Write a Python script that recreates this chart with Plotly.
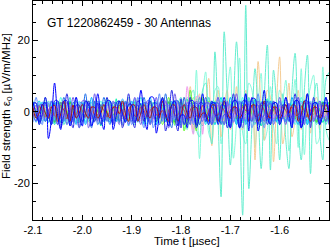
import plotly.graph_objects as go

# sample times [usec], 6.25 ns spacing
TIME = [
    -2.1, -2.09375, -2.0875, -2.08125, -2.075, -2.06875, -2.0625, -2.05625,
    -2.05, -2.04375, -2.0375, -2.03125, -2.025, -2.01875, -2.0125, -2.00625,
    -2.0, -1.99375, -1.9875, -1.98125, -1.975, -1.96875, -1.9625, -1.95625,
    -1.95, -1.94375, -1.9375, -1.93125, -1.925, -1.91875, -1.9125, -1.90625,
    -1.9, -1.89375, -1.8875, -1.88125, -1.875, -1.86875, -1.8625, -1.85625,
    -1.85, -1.84375, -1.8375, -1.83125, -1.825, -1.81875, -1.8125, -1.80625,
    -1.8, -1.79375, -1.7875, -1.78125, -1.775, -1.76875, -1.7625, -1.75625,
    -1.75, -1.74375, -1.7375, -1.73125, -1.725, -1.71875, -1.7125, -1.70625,
    -1.7, -1.69375, -1.6875, -1.68125, -1.675, -1.66875, -1.6625, -1.65625,
    -1.65, -1.64375, -1.6375, -1.63125, -1.625, -1.61875, -1.6125, -1.60625,
    -1.6, -1.59375, -1.5875, -1.58125, -1.575, -1.56875, -1.5625, -1.55625,
    -1.55, -1.54375, -1.5375, -1.53125, -1.525, -1.51875, -1.5125, -1.50625,
    -1.5,
]

# field strength per antenna [uV/m/MHz]
SIG_A = [
    1.2, -1.8, -0.4, 2, -0.4, -1.8, 1.2,
    0.9, -1.4, -0.3, 1.5, -0.3, -1.4, 0.9,
    -1.8, -0.4, 2, -0.4, -1.8, 1.2, 1.2,
    -1.4, -0.3, 1.5, -0.3, -1.4, 0.9, 0.9,
    -0.4, 2, -0.4, -1.8, 1.2, 1.2, -1.8,
    -0.4, 2, -0.4, -1.8, 1.2, 1.2, -1.8,
    1, -2, 2.5, 1, -3, 2, 4,
    -2, -5, 4, 6, -5, -7, 6,
    8, -3, -9, 16.7, -2, -23.8, 22.3,
    4, -14.9, 2, 19.5, 0, -28.9, 29.7,
    -21.5, -4, 12, 0, -15.9, 4, 18.6,
    -16.3, 11.6, 2, -13.5, 5, -8, -15.9,
    6, 16.3, -4, -13.5, 6, 15.8, -17.3,
    3, 8, -6, -13.5, 9, 11,
]
SIG_B = [
    0.3, 1.4, -0.9, -0.9, 1.4, 0.3, -1.5,
    0.4, 1.8, -1.2, -1.2, 1.8, 0.4, -2,
    1.4, -0.9, -0.9, 1.4, 0.3, -1.5, 0.3,
    1.8, -1.2, -1.2, 1.8, 0.4, -2, 0.4,
    -0.9, -0.9, 1.4, 0.3, -1.5, 0.3, 1.4,
    -1.2, -1.2, 1.8, 0.4, -2, 0.4, 1.8,
    1, -2, 3, 1, -4, 3, 2,
    -5, 4, 3, -6, 11.6, -13.1, 4,
    11.1, -6, -8, 6, 7, -9, -2,
    5, 12.5, -13, -3, 15, -6, -9,
    8, 6, -10, 2, 10.7, -8, -5,
    7, -4, -9, 6, 4, 8.8, -11,
    -2, 9, -10, 12, -12, 2, 7,
    10.2, -9, -7, 12.5, -5, -8,
]
SIG_OR = [
    -1.4, 0.9, 0.9, -1.4, -0.3, 1.5, -0.3,
    -1.4, 0.9, 0.9, -1.4, -0.3, 1.5, -0.3,
    1.2, 1.2, -1.8, -0.4, 2, -0.4, -1.8,
    0.9, 0.9, -1.4, -0.3, 1.5, -0.3, -1.4,
    0.9, -1.4, -0.3, 1.5, -0.3, -1.4, 0.9,
    1.2, -1.8, -0.4, 2, -0.4, -1.8, 1.2,
    -1, 2, -2, -1, 3, -2, -3,
    4, 2, 7, -5, -2, 5, -4,
    2, 9.3, -9.5, 2, 6, -7, 1,
    6, -5, -3, 7, -4, -5, 6,
    3, 2, -13.5, 14, 1, -8, 6,
    4, -14, 3, 15.3, -9, -3, 8,
    -7, -2, 6, -5, 3, 5, -6,
    2, 4, -5, 1, 4, -3,
]
ANT01 = [
    2.5, -0.5, -3, 2, 2.5, -7.5, -2,
    8, -1, -5, 3, 3, -4, -1,
    4, -1, -4, 3, 2, -4, -1,
    5, -1, -5, 3, 3, -5, -1,
    3, -0.5, -3, 2, 2, -3, -0.5,
    6, -1, -5, 4, 4, -6, -1,
    4, -1, -4, 2, 3, -4, -1,
    -1, -4.5, 3, 3, -4.5, -1, 5,
    -0.8, -3.6, 2.4, 2.4, -3.6, -0.8, 4,
    -1, -4.5, 3, 3, -4.5, -1, 5,
    -5.4, 3.6, 3.6, -5.4, -1.2, 6, -1.2,
    -3.6, 2.4, 2.4, -3.6, -0.8, 4, -0.8,
    -4.5, 3, 3, -4.5, -1, 5, -1,
    2.4, 2.4, -3.6, -0.8, 4, -0.8,
]
ANT02 = [
    2.4, 2.4, -3.6, -0.8, 4, -0.8, -3.6,
    3, 3, -4.5, -1, 5, -1, -4.5,
    1.8, 1.8, -2.7, -0.6, 3, -0.6, -2.7,
    2.4, -3.6, -0.8, 4, -0.8, -3.6, 2.4,
    3, -4.5, -1, 5, -1, -4.5, 3,
    1.8, -2.7, -0.6, 3, -0.6, -2.7, 1.8,
    3.6, -5.4, -1.2, 6, -1.2, -5.4, 3.6,
    -3.6, -0.8, 4, -0.8, -3.6, 2.4, 2.4,
    -2.7, -0.6, 3, -0.6, -2.7, 1.8, 1.8,
    -4.5, -1, 5, -1, -4.5, 3, 3,
    -0.8, 4, -0.8, -3.6, 2.4, 2.4, -3.6,
    -0.6, 3, -0.6, -2.7, 1.8, 1.8, -2.7,
    -1, 5, -1, -4.5, 3, 3, -4.5,
    4, -0.8, -3.6, 2.4, 2.4, -3.6,
]
ANT03 = [
    -0.6, -2.7, 1.8, 1.8, -2.7, -0.6, 3,
    -0.8, -3.6, 2.4, 2.4, -3.6, -0.8, 4,
    -1, -4.5, 3, 3, -4.5, -1, 5,
    -2.7, 1.8, 1.8, -2.7, -0.6, 3, -0.6,
    -3.6, 2.4, 2.4, -3.6, -0.8, 4, -0.8,
    -3.6, 2.4, 2.4, -3.6, -0.8, 4, -0.8,
    3, 3, -4.5, -1, 5, -1, -4.5,
    1.8, 1.8, -2.7, -0.6, 3, -0.6, -2.7,
    2.4, 2.4, -3.6, -0.8, 4, -0.8, -3.6,
    3, -4.5, -1, 5, -1, -4.5, 3,
    1.8, -2.7, -0.6, 3, -0.6, -2.7, 1.8,
    2.4, -3.6, -0.8, 4, -0.8, -3.6, 2.4,
    -3.6, -0.8, 4, -0.8, -3.6, 2.4, 2.4,
    -2.7, -0.6, 3, -0.6, -2.7, 1.8,
]
ANT04 = [
    1.2, -1.8, -0.4, 2, -0.4, -1.8, 1.2,
    1.8, -2.7, -0.6, 3, -0.6, -2.7, 1.8,
    -1.8, -0.4, 2, -0.4, -1.8, 1.2, 1.2,
    -1.8, -0.4, 2, -0.4, -1.8, 1.2, 1.2,
    -0.6, 3, -0.6, -2.7, 1.8, 1.8, -2.7,
    -0.4, 2, -0.4, -1.8, 1.2, 1.2, -1.8,
    3, -0.6, -2.7, 1.8, 1.8, -2.7, -0.6,
    2, -0.4, -1.8, 1.2, 1.2, -1.8, -0.4,
    -0.6, -2.7, 1.8, 1.8, -2.7, -0.6, 3,
    -0.4, -1.8, 1.2, 1.2, -1.8, -0.4, 2,
    -2.7, 1.8, 1.8, -2.7, -0.6, 3, -0.6,
    -1.8, 1.2, 1.2, -1.8, -0.4, 2, -0.4,
    1.8, 1.8, -2.7, -0.6, 3, -0.6, -2.7,
    1.2, 1.2, -1.8, -0.4, 2, -0.4,
]
ANT05 = [
    -1.8, 1.2, 1.2, -1.8, -0.4, 2, -0.4,
    -1.8, 1.2, 1.2, -1.8, -0.4, 2, -0.4,
    1.8, 1.8, -2.7, -0.6, 3, -0.6, -2.7,
    1.2, 1.2, -1.8, -0.4, 2, -0.4, -1.8,
    1.2, -1.8, -0.4, 2, -0.4, -1.8, 1.2,
    1.8, -2.7, -0.6, 3, -0.6, -2.7, 1.8,
    -3.6, -0.8, 4, -0.8, -3.6, 2.4, 2.4,
    -5.4, -1.2, 6, -1.2, -5.4, 3.6, 3.6,
    -0.6, 3, -0.6, -2.7, 1.8, 1.8, -2.7,
    -0.4, 2, -0.4, -1.8, 1.2, 1.2, -1.8,
    3, -0.6, -2.7, 1.8, 1.8, -2.7, -0.6,
    2, -0.4, -1.8, 1.2, 1.2, -1.8, -0.4,
    -0.4, -1.8, 1.2, 1.2, -1.8, -0.4, 2,
    -0.6, -2.7, 1.8, 1.8, -2.7, -0.6,
]
ANT06 = [
    -2, 0.4, 1.8, -1.2, -1.2, 1.8, 0.4,
    -3, 0.6, 2.7, -1.8, -1.8, 2.7, 0.6,
    0.4, 1.8, -1.2, -1.2, 1.8, 0.4, -2,
    0.4, 1.8, -1.2, -1.2, 1.8, 0.4, -2,
    2.7, -1.8, -1.8, 2.7, 0.6, -3, 0.6,
    1.8, -1.2, -1.2, 1.8, 0.4, -2, 0.4,
    -1.8, -1.8, 2.7, 0.6, -3, 0.6, 2.7,
    -2.4, -2.4, 3.6, 0.8, -4, 0.8, 3.6,
    -1.8, 2.7, 0.6, -3, 0.6, 2.7, -1.8,
    -1.2, 1.8, 0.4, -2, 0.4, 1.8, -1.2,
    2.7, 0.6, -3, 0.6, 2.7, -1.8, -1.8,
    1.8, 0.4, -2, 0.4, 1.8, -1.2, -1.2,
    0.4, -2, 0.4, 1.8, -1.2, -1.2, 1.8,
    0.6, -3, 0.6, 2.7, -1.8, -1.8,
]
ANT07 = [
    -2.7, -0.6, 3, -0.6, -2.7, 1.8, 1.8,
    -0.6, 3, -0.6, -2.7, 1.8, 1.8, -2.7,
    -0.4, 2, -0.4, -1.8, 1.2, 1.2, -1.8,
    3, -0.6, -2.7, 1.8, 1.8, -2.7, -0.6,
    3, -0.6, -2.7, 1.8, 1.8, -2.7, -0.6,
    -0.4, -1.8, 1.2, 1.2, -1.8, -0.4, 2,
    -0.6, -2.7, 1.8, 1.8, -2.7, -0.6, 3,
    -2.7, 1.8, 1.8, -2.7, -0.6, 3, -0.6,
    -3.6, 2.4, 2.4, -3.6, -0.8, 4, -0.8,
    1.8, 1.8, -2.7, -0.6, 3, -0.6, -2.7,
    1.2, 1.2, -1.8, -0.4, 2, -0.4, -1.8,
    1.8, -2.7, -0.6, 3, -0.6, -2.7, 1.8,
    1.8, -2.7, -0.6, 3, -0.6, -2.7, 1.8,
    -1.8, -0.4, 2, -0.4, -1.8, 1.2,
]
ANT08 = [
    2.7, -1.8, -1.8, 2.7, 0.6, -3, 0.6,
    2.7, -1.8, -1.8, 2.7, 0.6, -3, 0.6,
    -1.2, -1.2, 1.8, 0.4, -2, 0.4, 1.8,
    -1.8, -1.8, 2.7, 0.6, -3, 0.6, 2.7,
    -2.4, 3.6, 0.8, -4, 0.8, 3.6, -2.4,
    -1.8, 2.7, 0.6, -3, 0.6, 2.7, -1.8,
    2.7, 0.6, -3, 0.6, 2.7, -1.8, -1.8,
    1.8, 0.4, -2, 0.4, 1.8, -1.2, -1.2,
    0.6, -3, 0.6, 2.7, -1.8, -1.8, 2.7,
    0.8, -4, 0.8, 3.6, -2.4, -2.4, 3.6,
    -3, 0.6, 2.7, -1.8, -1.8, 2.7, 0.6,
    -2, 0.4, 1.8, -1.2, -1.2, 1.8, 0.4,
    0.6, 2.7, -1.8, -1.8, 2.7, 0.6, -3,
    0.6, 2.7, -1.8, -1.8, 2.7, 0.6,
]
ANT09 = [
    -0.8, 4, -0.8, -3.6, 2.4, 2.4, -3.6,
    -0.6, 3, -0.6, -2.7, 1.8, 1.8, -2.7,
    4, -0.8, -3.6, 2.4, 2.4, -3.6, -0.8,
    3, -0.6, -2.7, 1.8, 1.8, -2.7, -0.6,
    -0.8, -3.6, 2.4, 2.4, -3.6, -0.8, 4,
    -1, -4.5, 3, 3, -4.5, -1, 5,
    -2.7, 1.8, 1.8, -2.7, -0.6, 3, -0.6,
    -3.6, 2.4, 2.4, -3.6, -0.8, 4, -0.8,
    2.4, 2.4, -3.6, -0.8, 4, -0.8, -3.6,
    1.8, 1.8, -2.7, -0.6, 3, -0.6, -2.7,
    3, -4.5, -1, 5, -1, -4.5, 3,
    1.8, -2.7, -0.6, 3, -0.6, -2.7, 1.8,
    -3.6, -0.8, 4, -0.8, -3.6, 2.4, 2.4,
    -2.7, -0.6, 3, -0.6, -2.7, 1.8,
]
ANT10 = [
    -1.2, 1.8, 0.4, -2, 0.4, 1.8, -1.2,
    -1.2, 1.8, 0.4, -2, 0.4, 1.8, -1.2,
    2.7, 0.6, -3, 0.6, 2.7, -1.8, -1.8,
    1.8, 0.4, -2, 0.4, 1.8, -1.2, -1.2,
    0.8, -4, 0.8, 3.6, -2.4, -2.4, 3.6,
    0.4, -2, 0.4, 1.8, -1.2, -1.2, 1.8,
    -2, 0.4, 1.8, -1.2, -1.2, 1.8, 0.4,
    -3, 0.6, 2.7, -1.8, -1.8, 2.7, 0.6,
    0.4, 1.8, -1.2, -1.2, 1.8, 0.4, -2,
    0.4, 1.8, -1.2, -1.2, 1.8, 0.4, -2,
    2.7, -1.8, -1.8, 2.7, 0.6, -3, 0.6,
    1.8, -1.2, -1.2, 1.8, 0.4, -2, 0.4,
    -1.2, -1.2, 1.8, 0.4, -2, 0.4, 1.8,
    -1.2, -1.2, 1.8, 0.4, -2, 0.4,
]
ANT11 = [
    1.2, 1.2, -1.8, -0.4, 2, -0.4, -1.8,
    1.2, 1.2, -1.8, -0.4, 2, -0.4, -1.8,
    1.2, -1.8, -0.4, 2, -0.4, -1.8, 1.2,
    1.2, -1.8, -0.4, 2, -0.4, -1.8, 1.2,
    -1.8, -0.4, 2, -0.4, -1.8, 1.2, 1.2,
    -2.7, -0.6, 3, -0.6, -2.7, 1.8, 1.8,
    -0.6, 3, -0.6, -2.7, 1.8, 1.8, -2.7,
    -1.4, 7, -1.4, -6.3, 4.2, 4.2, -6.3,
    3, -0.6, -2.7, 1.8, 1.8, -2.7, -0.6,
    2, -0.4, -1.8, 1.2, 1.2, -1.8, -0.4,
    -0.4, -1.8, 1.2, 1.2, -1.8, -0.4, 2,
    -0.4, -1.8, 1.2, 1.2, -1.8, -0.4, 2,
    -1.8, 1.2, 1.2, -1.8, -0.4, 2, -0.4,
    -1.8, 1.2, 1.2, -1.8, -0.4, 2,
]
ANT12 = [
    0.4, 1.8, -1.2, -1.2, 1.8, 0.4, -2,
    0.6, 2.7, -1.8, -1.8, 2.7, 0.6, -3,
    1.8, -1.2, -1.2, 1.8, 0.4, -2, 0.4,
    2.7, -1.8, -1.8, 2.7, 0.6, -3, 0.6,
    -1.2, -1.2, 1.8, 0.4, -2, 0.4, 1.8,
    -1.2, -1.2, 1.8, 0.4, -2, 0.4, 1.8,
    -1.8, 2.7, 0.6, -3, 0.6, 2.7, -1.8,
    -1.8, 2.7, 0.6, -3, 0.6, 2.7, -1.8,
    1.8, 0.4, -2, 0.4, 1.8, -1.2, -1.2,
    2.7, 0.6, -3, 0.6, 2.7, -1.8, -1.8,
    0.4, -2, 0.4, 1.8, -1.2, -1.2, 1.8,
    0.4, -2, 0.4, 1.8, -1.2, -1.2, 1.8,
    -3, 0.6, 2.7, -1.8, -1.8, 2.7, 0.6,
    -2, 0.4, 1.8, -1.2, -1.2, 1.8,
]
ANT13 = [
    2, -0.4, -1.8, 1.2, 1.2, -1.8, -0.4,
    -0.4, -1.8, 1.2, 1.2, -1.8, -0.4, 2,
    -0.6, -2.7, 1.8, 1.8, -2.7, -0.6, 3,
    -1.8, 1.2, 1.2, -1.8, -0.4, 2, -0.4,
    -2.7, 1.8, 1.8, -2.7, -0.6, 3, -0.6,
    1.2, 1.2, -1.8, -0.4, 2, -0.4, -1.8,
    1.8, 1.8, -2.7, -0.6, 3, -0.6, -2.7,
    2.4, -3.6, -0.8, 4, -0.8, -3.6, 2.4,
    1.8, -2.7, -0.6, 3, -0.6, -2.7, 1.8,
    -1.8, -0.4, 2, -0.4, -1.8, 1.2, 1.2,
    -2.7, -0.6, 3, -0.6, -2.7, 1.8, 1.8,
    -0.4, 2, -0.4, -1.8, 1.2, 1.2, -1.8,
    -0.6, 3, -0.6, -2.7, 1.8, 1.8, -2.7,
    2, -0.4, -1.8, 1.2, 1.2, -1.8,
]
ANT14 = [
    2.7, 0.6, -3, 0.6, 2.7, -1.8, -1.8,
    2.7, 0.6, -3, 0.6, 2.7, -1.8, -1.8,
    0.6, -3, 0.6, 2.7, -1.8, -1.8, 2.7,
    0.8, -4, 0.8, 3.6, -2.4, -2.4, 3.6,
    -3, 0.6, 2.7, -1.8, -1.8, 2.7, 0.6,
    -2, 0.4, 1.8, -1.2, -1.2, 1.8, 0.4,
    0.6, 2.7, -1.8, -1.8, 2.7, 0.6, -3,
    0.8, 3.6, -2.4, -2.4, 3.6, 0.8, -4,
    2.7, -1.8, -1.8, 2.7, 0.6, -3, 0.6,
    2.7, -1.8, -1.8, 2.7, 0.6, -3, 0.6,
    -2.4, -2.4, 3.6, 0.8, -4, 0.8, 3.6,
    -1.2, -1.2, 1.8, 0.4, -2, 0.4, 1.8,
    -1.8, 2.7, 0.6, -3, 0.6, 2.7, -1.8,
    -1.8, 2.7, 0.6, -3, 0.6, 2.7,
]
ANT15 = [
    -2.7, 1.8, 1.8, -2.7, -0.6, 3, -0.6,
    -3.6, 2.4, 2.4, -3.6, -0.8, 4, -0.8,
    1.8, 1.8, -2.7, -0.6, 3, -0.6, -2.7,
    1.8, 1.8, -2.7, -0.6, 3, -0.6, -2.7,
    2.4, -3.6, -0.8, 4, -0.8, -3.6, 2.4,
    1.8, -2.7, -0.6, 3, -0.6, -2.7, 1.8,
    -2.7, -0.6, 3, -0.6, -2.7, 1.8, 1.8,
    -3.6, -0.8, 4, -0.8, -3.6, 2.4, 2.4,
    -0.8, 4, -0.8, -3.6, 2.4, 2.4, -3.6,
    -0.6, 3, -0.6, -2.7, 1.8, 1.8, -2.7,
    4, -0.8, -3.6, 2.4, 2.4, -3.6, -0.8,
    3, -0.6, -2.7, 1.8, 1.8, -2.7, -0.6,
    -0.6, -2.7, 1.8, 1.8, -2.7, -0.6, 3,
    -0.8, -3.6, 2.4, 2.4, -3.6, -0.8,
]
ANT16 = [
    -1.2, -1.2, 1.8, 0.4, -2, 0.4, 1.8,
    -1.2, 1.8, 0.4, -2, 0.4, 1.8, -1.2,
    -1.8, 2.7, 0.6, -3, 0.6, 2.7, -1.8,
    1.8, 0.4, -2, 0.4, 1.8, -1.2, -1.2,
    1.8, 0.4, -2, 0.4, 1.8, -1.2, -1.2,
    0.6, -3, 0.6, 2.7, -1.8, -1.8, 2.7,
    0.4, -2, 0.4, 1.8, -1.2, -1.2, 1.8,
    -2, 0.4, 1.8, -1.2, -1.2, 1.8, 0.4,
    -3, 0.6, 2.7, -1.8, -1.8, 2.7, 0.6,
    0.4, 1.8, -1.2, -1.2, 1.8, 0.4, -2,
    0.4, 1.8, -1.2, -1.2, 1.8, 0.4, -2,
    2.7, -1.8, -1.8, 2.7, 0.6, -3, 0.6,
    1.8, -1.2, -1.2, 1.8, 0.4, -2, 0.4,
    -1.2, -1.2, 1.8, 0.4, -2, 0.4,
]
ANT17 = [
    1.2, -1.8, -0.4, 2, -0.4, -1.8, 1.2,
    -1.8, -0.4, 2, -0.4, -1.8, 1.2, 1.2,
    -1.8, -0.4, 2, -0.4, -1.8, 1.2, 1.2,
    -0.4, 2, -0.4, -1.8, 1.2, 1.2, -1.8,
    -0.6, 3, -0.6, -2.7, 1.8, 1.8, -2.7,
    2, -0.4, -1.8, 1.2, 1.2, -1.8, -0.4,
    4, -0.8, -3.6, 2.4, 2.4, -3.6, -0.8,
    -0.8, -3.6, 2.4, 2.4, -3.6, -0.8, 4,
    -0.6, -2.7, 1.8, 1.8, -2.7, -0.6, 3,
    -1.8, 1.2, 1.2, -1.8, -0.4, 2, -0.4,
    -2.7, 1.8, 1.8, -2.7, -0.6, 3, -0.6,
    1.2, 1.2, -1.8, -0.4, 2, -0.4, -1.8,
    1.2, 1.2, -1.8, -0.4, 2, -0.4, -1.8,
    1.2, -1.8, -0.4, 2, -0.4, -1.8,
]
ANT18 = [
    0.6, -3, 0.6, 2.7, -1.8, -1.8, 2.7,
    -2, 0.4, 1.8, -1.2, -1.2, 1.8, 0.4,
    -3, 0.6, 2.7, -1.8, -1.8, 2.7, 0.6,
    0.4, 1.8, -1.2, -1.2, 1.8, 0.4, -2,
    0.6, 2.7, -1.8, -1.8, 2.7, 0.6, -3,
    1.8, -1.2, -1.2, 1.8, 0.4, -2, 0.4,
    2.7, -1.8, -1.8, 2.7, 0.6, -3, 0.6,
    -1.8, -1.8, 2.7, 0.6, -3, 0.6, 2.7,
    -1.2, -1.2, 1.8, 0.4, -2, 0.4, 1.8,
    -1.8, 2.7, 0.6, -3, 0.6, 2.7, -1.8,
    -1.2, 1.8, 0.4, -2, 0.4, 1.8, -1.2,
    2.7, 0.6, -3, 0.6, 2.7, -1.8, -1.8,
    1.8, 0.4, -2, 0.4, 1.8, -1.2, -1.2,
    0.4, -2, 0.4, 1.8, -1.2, -1.2,
]
ANT19 = [
    -0.6, -2.7, 1.8, 1.8, -2.7, -0.6, 3,
    -2.7, 1.8, 1.8, -2.7, -0.6, 3, -0.6,
    -3.6, 2.4, 2.4, -3.6, -0.8, 4, -0.8,
    1.8, 1.8, -2.7, -0.6, 3, -0.6, -2.7,
    1.8, 1.8, -2.7, -0.6, 3, -0.6, -2.7,
    2.4, -3.6, -0.8, 4, -0.8, -3.6, 2.4,
    1.8, -2.7, -0.6, 3, -0.6, -2.7, 1.8,
    -2.7, -0.6, 3, -0.6, -2.7, 1.8, 1.8,
    -2.7, -0.6, 3, -0.6, -2.7, 1.8, 1.8,
    -0.8, 4, -0.8, -3.6, 2.4, 2.4, -3.6,
    -0.6, 3, -0.6, -2.7, 1.8, 1.8, -2.7,
    3, -0.6, -2.7, 1.8, 1.8, -2.7, -0.6,
    4, -0.8, -3.6, 2.4, 2.4, -3.6, -0.8,
    -0.6, -2.7, 1.8, 1.8, -2.7, -0.6,
]
ANT20 = [
    1.8, -1.2, -1.2, 1.8, 0.4, -2, 0.4,
    -0.9, -0.9, 1.4, 0.3, -1.5, 0.3, 1.4,
    -0.9, -0.9, 1.4, 0.3, -1.5, 0.3, 1.4,
    -1.2, 1.8, 0.4, -2, 0.4, 1.8, -1.2,
    -0.9, 1.4, 0.3, -1.5, 0.3, 1.4, -0.9,
    1.4, 0.3, -1.5, 0.3, 1.4, -0.9, -0.9,
    1.8, 0.4, -2, 0.4, 1.8, -1.2, -1.2,
    0.4, -2, 0.4, 1.8, -1.2, -1.2, 1.8,
    0.3, -1.5, 0.3, 1.4, -0.9, -0.9, 1.4,
    -1.5, 0.3, 1.4, -0.9, -0.9, 1.4, 0.3,
    -2, 0.4, 1.8, -1.2, -1.2, 1.8, 0.4,
    0.3, 1.4, -0.9, -0.9, 1.4, 0.3, -1.5,
    0.3, 1.4, -0.9, -0.9, 1.4, 0.3, -1.5,
    1.8, -1.2, -1.2, 1.8, 0.4, -2,
]
ANT21 = [
    -2.7, -0.6, 3, -0.6, -2.7, 1.8, 1.8,
    -3.6, -0.8, 4, -0.8, -3.6, 2.4, 2.4,
    -0.6, 3, -0.6, -2.7, 1.8, 1.8, -2.7,
    -0.6, 3, -0.6, -2.7, 1.8, 1.8, -2.7,
    3, -0.6, -2.7, 1.8, 1.8, -2.7, -0.6,
    4, -0.8, -3.6, 2.4, 2.4, -3.6, -0.8,
    -0.6, -2.7, 1.8, 1.8, -2.7, -0.6, 3,
    -0.8, -3.6, 2.4, 2.4, -3.6, -0.8, 4,
    -2.7, 1.8, 1.8, -2.7, -0.6, 3, -0.6,
    -3.6, 2.4, 2.4, -3.6, -0.8, 4, -0.8,
    1.8, 1.8, -2.7, -0.6, 3, -0.6, -2.7,
    1.8, 1.8, -2.7, -0.6, 3, -0.6, -2.7,
    2.4, -3.6, -0.8, 4, -0.8, -3.6, 2.4,
    1.8, -2.7, -0.6, 3, -0.6, -2.7,
]
ANT22 = [
    0.4, -2, 0.4, 1.8, -1.2, -1.2, 1.8,
    0.4, -2, 0.4, 1.8, -1.2, -1.2, 1.8,
    -3, 0.6, 2.7, -1.8, -1.8, 2.7, 0.6,
    -2, 0.4, 1.8, -1.2, -1.2, 1.8, 0.4,
    0.4, 1.8, -1.2, -1.2, 1.8, 0.4, -2,
    0.6, 2.7, -1.8, -1.8, 2.7, 0.6, -3,
    1.8, -1.2, -1.2, 1.8, 0.4, -2, 0.4,
    1.8, -1.2, -1.2, 1.8, 0.4, -2, 0.4,
    -1.8, -1.8, 2.7, 0.6, -3, 0.6, 2.7,
    -1.2, -1.2, 1.8, 0.4, -2, 0.4, 1.8,
    -1.2, 1.8, 0.4, -2, 0.4, 1.8, -1.2,
    -1.8, 2.7, 0.6, -3, 0.6, 2.7, -1.8,
    1.8, 0.4, -2, 0.4, 1.8, -1.2, -1.2,
    1.8, 0.4, -2, 0.4, 1.8, -1.2,
]
ANT23 = [
    -0.3, 1.5, -0.3, -1.4, 0.9, 0.9, -1.4,
    2, -0.4, -1.8, 1.2, 1.2, -1.8, -0.4,
    1.5, -0.3, -1.4, 0.9, 0.9, -1.4, -0.3,
    -0.4, -1.8, 1.2, 1.2, -1.8, -0.4, 2,
    -0.4, -1.8, 1.2, 1.2, -1.8, -0.4, 2,
    -1.8, 1.2, 1.2, -1.8, -0.4, 2, -0.4,
    -2.7, 1.8, 1.8, -2.7, -0.6, 3, -0.6,
    2.4, 2.4, -3.6, -0.8, 4, -0.8, -3.6,
    1.8, 1.8, -2.7, -0.6, 3, -0.6, -2.7,
    1.2, -1.8, -0.4, 2, -0.4, -1.8, 1.2,
    1.2, -1.8, -0.4, 2, -0.4, -1.8, 1.2,
    -1.8, -0.4, 2, -0.4, -1.8, 1.2, 1.2,
    -1.4, -0.3, 1.5, -0.3, -1.4, 0.9, 0.9,
    -0.4, 2, -0.4, -1.8, 1.2, 1.2,
]
ANT24 = [
    -3, 0.6, 2.7, -1.8, -1.8, 2.7, 0.6,
    0.4, 1.8, -1.2, -1.2, 1.8, 0.4, -2,
    0.6, 2.7, -1.8, -1.8, 2.7, 0.6, -3,
    1.8, -1.2, -1.2, 1.8, 0.4, -2, 0.4,
    2.7, -1.8, -1.8, 2.7, 0.6, -3, 0.6,
    -1.8, -1.8, 2.7, 0.6, -3, 0.6, 2.7,
    -1.2, -1.2, 1.8, 0.4, -2, 0.4, 1.8,
    -1.8, 2.7, 0.6, -3, 0.6, 2.7, -1.8,
    -1.8, 2.7, 0.6, -3, 0.6, 2.7, -1.8,
    1.8, 0.4, -2, 0.4, 1.8, -1.2, -1.2,
    2.7, 0.6, -3, 0.6, 2.7, -1.8, -1.8,
    0.4, -2, 0.4, 1.8, -1.2, -1.2, 1.8,
    0.6, -3, 0.6, 2.7, -1.8, -1.8, 2.7,
    -2, 0.4, 1.8, -1.2, -1.2, 1.8,
]
ANT25 = [
    2.4, 2.4, -3.6, -0.8, 4, -0.8, -3.6,
    2.4, -3.6, -0.8, 4, -0.8, -3.6, 2.4,
    3, -4.5, -1, 5, -1, -4.5, 3,
    -3.6, -0.8, 4, -0.8, -3.6, 2.4, 2.4,
    -2.7, -0.6, 3, -0.6, -2.7, 1.8, 1.8,
    -0.8, 4, -0.8, -3.6, 2.4, 2.4, -3.6,
    -1, 5, -1, -4.5, 3, 3, -4.5,
    4, -0.8, -3.6, 2.4, 2.4, -3.6, -0.8,
    4, -0.8, -3.6, 2.4, 2.4, -3.6, -0.8,
    -1, -4.5, 3, 3, -4.5, -1, 5,
    -0.6, -2.7, 1.8, 1.8, -2.7, -0.6, 3,
    -3.6, 2.4, 2.4, -3.6, -0.8, 4, -0.8,
    -4.5, 3, 3, -4.5, -1, 5, -1,
    2.4, 2.4, -3.6, -0.8, 4, -0.8,
]
ANT26 = [
    -0.9, -0.9, 1.4, 0.3, -1.5, 0.3, 1.4,
    -1.2, -1.2, 1.8, 0.4, -2, 0.4, 1.8,
    -0.9, 1.4, 0.3, -1.5, 0.3, 1.4, -0.9,
    -0.9, 1.4, 0.3, -1.5, 0.3, 1.4, -0.9,
    1.8, 0.4, -2, 0.4, 1.8, -1.2, -1.2,
    1.4, 0.3, -1.5, 0.3, 1.4, -0.9, -0.9,
    0.3, -1.5, 0.3, 1.4, -0.9, -0.9, 1.4,
    0.4, -2, 0.4, 1.8, -1.2, -1.2, 1.8,
    -1.5, 0.3, 1.4, -0.9, -0.9, 1.4, 0.3,
    -1.5, 0.3, 1.4, -0.9, -0.9, 1.4, 0.3,
    0.4, 1.8, -1.2, -1.2, 1.8, 0.4, -2,
    0.3, 1.4, -0.9, -0.9, 1.4, 0.3, -1.5,
    1.4, -0.9, -0.9, 1.4, 0.3, -1.5, 0.3,
    1.8, -1.2, -1.2, 1.8, 0.4, -2,
]
ANT27 = [
    3, -0.6, -2.7, 1.8, 1.8, -2.7, -0.6,
    2, -0.4, -1.8, 1.2, 1.2, -1.8, -0.4,
    -0.6, -2.7, 1.8, 1.8, -2.7, -0.6, 3,
    -0.4, -1.8, 1.2, 1.2, -1.8, -0.4, 2,
    -2.7, 1.8, 1.8, -2.7, -0.6, 3, -0.6,
    -2.7, 1.8, 1.8, -2.7, -0.6, 3, -0.6,
    1.2, 1.2, -1.8, -0.4, 2, -0.4, -1.8,
    1.8, 1.8, -2.7, -0.6, 3, -0.6, -2.7,
    1.8, -2.7, -0.6, 3, -0.6, -2.7, 1.8,
    1.2, -1.8, -0.4, 2, -0.4, -1.8, 1.2,
    -2.7, -0.6, 3, -0.6, -2.7, 1.8, 1.8,
    -1.8, -0.4, 2, -0.4, -1.8, 1.2, 1.2,
    -0.6, 3, -0.6, -2.7, 1.8, 1.8, -2.7,
    -0.4, 2, -0.4, -1.8, 1.2, 1.2,
]

# drawing order (back to front) with line colours
TRACES = [
    (SIG_B, "rgb(135,250,220)"),
    (SIG_OR, "rgb(245,205,150)"),
    (SIG_A, "rgb(100,238,208)"),
    (ANT27, "rgb(120,255,200)"),
    (ANT22, "rgb(150,230,170)"),
    (ANT20, "rgb(170,220,215)"),
    (ANT13, "rgb(140,255,160)"),
    (ANT14, "rgb(0,245,170)"),
    (ANT21, "rgb(80,255,225)"),
    (ANT17, "rgb(160,255,90)"),
    (ANT15, "rgb(64,224,208)"),
    (ANT18, "rgb(100,230,255)"),
    (ANT16, "rgb(120,200,255)"),
    (ANT07, "rgb(0,225,235)"),
    (ANT08, "rgb(60,185,255)"),
    (ANT19, "rgb(0,175,255)"),
    (ANT06, "rgb(50,205,50)"),
    (ANT05, "rgb(110,250,50)"),
    (ANT10, "rgb(195,195,195)"),
    (ANT11, "rgb(240,150,235)"),
    (ANT23, "rgb(255,185,205)"),
    (ANT24, "rgb(180,180,255)"),
    (ANT12, "rgb(190,110,230)"),
    (ANT09, "rgb(90,140,255)"),
    (ANT25, "rgb(30,110,235)"),
    (ANT26, "rgb(205,60,50)"),
    (ANT03, "rgb(110,90,235)"),
    (ANT02, "rgb(40,40,230)"),
    (ANT04, "rgb(165,20,20)"),
    (ANT01, "rgb(0,0,255)"),
]

X_TICKS = [-2.1, -2.0, -1.9, -1.8, -1.7, -1.6]
X_TICK_LABELS = ["-2.1", "-2.0", "-1.9", "-1.8", "-1.7", "-1.6"]
Y_TICKS = [-20, 0, 20]
Y_TICK_LABELS = ["-20", "0", "20"]

TITLE = "GT 1220862459 - 30 Antennas"
X_TITLE = "Time t [µsec]"
Y_TITLE = "Field strength ε<sub>0</sub> [µV/m/MHz]"

FONT = "Liberation Sans, Arial, Helvetica, sans-serif"

fig = go.Figure()
for vals, col in TRACES:
    n = min(len(vals), len(TIME))
    fig.add_trace(go.Scatter(
        x=TIME[:n], y=vals[:n], mode="lines",
        line=dict(color=col, width=1, shape="spline"),
        hoverinfo="skip", showlegend=False,
    ))

axis_common = dict(
    showline=True, linecolor="black", linewidth=1, mirror="allticks",
    ticks="inside", ticklen=5, tickwidth=1, tickcolor="black",
    showgrid=False, zeroline=False,
    tickfont=dict(family=FONT, size=11, color="black"),
)

fig.update_xaxes(
    range=[-2.1, -1.5], tickmode="array", tickvals=X_TICKS, ticktext=X_TICK_LABELS,
    minor=dict(tickmode="linear", tick0=-2.1, dtick=0.02, ticks="inside",
               ticklen=3, tickcolor="black", showgrid=False),
    **axis_common,
)
fig.update_yaxes(
    range=[-30.25, 30.9], tickmode="array", tickvals=Y_TICKS, ticktext=Y_TICK_LABELS,
    minor=dict(tickmode="linear", tick0=0, dtick=5, ticks="inside",
               ticklen=3, tickcolor="black", showgrid=False),
    **axis_common,
)

fig.update_layout(
    width=330, height=249,
    margin=dict(l=33, r=1, t=1, b=29),
    paper_bgcolor="white", plot_bgcolor="white",
    font=dict(family=FONT, color="black"),
    annotations=[
        dict(text=TITLE, xref="paper", yref="paper", x=0.04, y=0.8995,
             xanchor="left", yanchor="middle", showarrow=False,
             font=dict(family=FONT, size=12, color="black")),
        dict(text=X_TITLE, xref="paper", yref="paper", x=0.52, y=-0.096,
             xanchor="center", yanchor="middle", showarrow=False,
             font=dict(family=FONT, size=11.5, color="black")),
        dict(text=Y_TITLE, xref="paper", yref="paper", x=-0.088, y=0.52,
             xanchor="center", yanchor="middle", showarrow=False, textangle=-90,
             font=dict(family=FONT, size=11.5, color="black")),
    ],
)

fig.write_html(
    "out.html",
    config={"displayModeBar": False, "staticPlot": True},
    post_script="document.body.style.margin='0px';document.body.style.padding='0px';",
)
